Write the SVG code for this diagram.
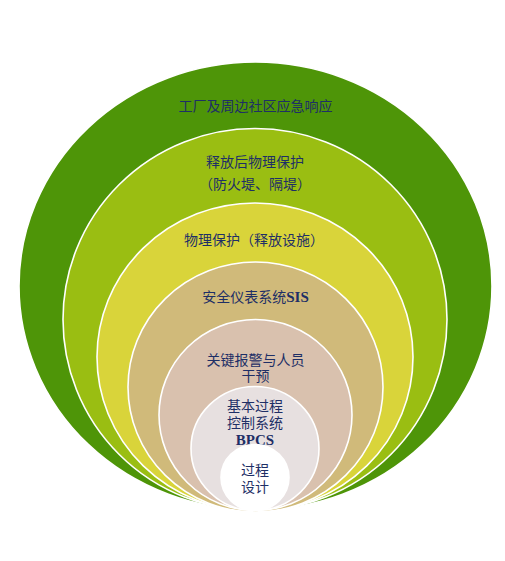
<svg xmlns="http://www.w3.org/2000/svg" width="505" height="561" viewBox="0 0 505 561">
<style>
.ring{stroke:#FFFFFF;stroke-width:1.6}
.t{font-family:"Noto Sans CJK SC","Noto Sans",sans-serif;font-size:14px;fill:#1E2F66;text-anchor:middle}
.lat{font-family:"Liberation Serif",serif;font-weight:bold;font-size:15px}
</style>
<rect width="505" height="561" fill="#FFFFFF"/>
<g id="ring1">
<ellipse class="ring" cx="255.5" cy="286" rx="236.5" ry="224" fill="#4E9508"/>
<text class="t" x="255.5" y="111" fill="#1C3550">工厂及周边社区应急响应</text>
</g>
<g id="ring2">
<ellipse class="ring" cx="255" cy="319.5" rx="192" ry="191" fill="#9ABE12"/>
<text class="t" x="255" y="167">释放后物理保护</text>
<text class="t" x="255" y="189">（防火堤、隔堤）</text>
</g>
<g id="ring3">
<ellipse class="ring" cx="255" cy="357" rx="158" ry="154" fill="#D9D43A"/>
<text class="t" x="254" y="245">物理保护（释放设施）</text>
</g>
<g id="ring4">
<ellipse class="ring" cx="255.5" cy="387" rx="127.5" ry="125" fill="#D0BA7A"/>
<text class="t" x="255.5" y="302">安全仪表系统<tspan class="lat">SIS</tspan></text>
</g>
<g id="ring5">
<ellipse class="ring" cx="255.5" cy="415" rx="96.5" ry="95.5" fill="#D9C1AE"/>
<text class="t" x="255.5" y="365">关键报警与人员</text>
<text class="t" x="255.5" y="381">干预</text>
</g>
<g id="ring6">
<ellipse class="ring" cx="255" cy="448.5" rx="64" ry="62" fill="#E7E0E0"/>
<text class="t" x="255" y="411">基本过程</text>
<text class="t" x="255" y="428">控制系统</text>
<text class="t" x="255" y="445"><tspan class="lat">BPCS</tspan></text>
</g>
<g id="ring7">
<ellipse class="ring" cx="255" cy="477.5" rx="34" ry="33" fill="#FFFFFF"/>
<text class="t" x="255" y="475">过程</text>
<text class="t" x="255" y="492">设计</text>
</g>
</svg>
